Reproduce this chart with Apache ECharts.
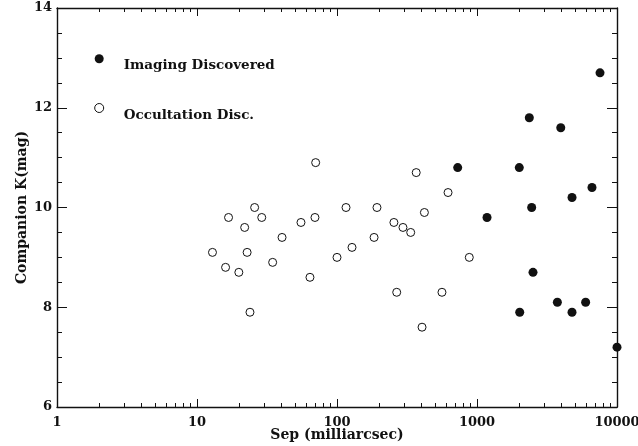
<!DOCTYPE html>
<html><head><meta charset="utf-8">
<script src="https://cdn.jsdelivr.net/npm/echarts@6/dist/echarts.min.js"></script>
<style>html,body{margin:0;padding:0;background:#fff}#c{width:638px;height:446px}</style>
</head><body><div id="c"></div>
<script>
// Occultation discovered companions: separation (mas), K mag
const occSep = [12.9,16.0,16.8,19.9,21.9,22.8,23.9,25.8,29.0,34.7,40.5,55.3,64.1,69.6,70.4,100,116,128,184,193,255,267,296,336,368,405,421,562,621,881];
const occK   = [9.1, 8.8, 9.8, 8.7, 9.6, 9.1, 7.9, 10.0,9.8, 8.9, 9.4, 9.7, 8.6, 9.8, 10.9,9.0,10.0,9.2,9.4,10.0,9.7,8.3,9.6,9.5,10.7,7.6,9.9,8.3,10.3,9.0];
// Imaging discovered companions
const imgSep = [728,1179,2005,2019,2364,2458,2512,3750,3966,4772,4772,5970,6628,7563,10000];
const imgK   = [10.8,9.8,10.8,7.9,11.8,10.0,8.7,8.1,11.6,10.2,7.9,8.1,10.4,12.7,7.2];
const xMajor = [1,10,100,1000,10000];
const xMinor = [2,3,4,5,6,7,8,9,20,30,40,50,60,70,80,90,200,300,400,500,600,700,800,900,2000,3000,4000,5000,6000,7000,8000,9000];
const seriesNames = ['Imaging Discovered','Occultation Disc.'];
const xTitle = 'Sep (milliarcsec)';
const yTitle = 'Companion K(mag)';

const FONT = 'DejaVu Serif';
const ink = '#111';
const chart = echarts.init(document.getElementById('c'));
const tickFont = {color:ink, fontFamily:FONT, fontWeight:'bold', fontSize:13};
const titleFont = {color:ink, fontFamily:FONT, fontWeight:'bold', fontSize:14};
function xAx(pos, ticks, len, labels){
  return {type:'log', logBase:10, min:1, max:10000, position:pos,
    axisLine:{show:labels!==null, lineStyle:{color:ink,width:1.4}},
    axisTick:{show:true, inside:true, length:len, customValues:ticks, lineStyle:{color:ink,width:1}},
    axisLabel:Object.assign({show:!!labels, customValues: labels||undefined, formatter:v=>String(v), margin:9}, tickFont),
    splitLine:{show:false}, minorTick:{show:false},
    name: pos==='bottom' && labels ? xTitle : '', nameLocation:'middle', nameGap:21, nameMoveOverlap:false,
    nameTextStyle:titleFont};
}
function yAx(pos, labels){
  return {type:'value', min:6, max:14, interval:2, position:pos,
    axisLine:{show:true, lineStyle:{color:ink,width:1.4}},
    axisTick:{show:true, inside:true, length:10, lineStyle:{color:ink,width:1}},
    minorTick:{show:true, splitNumber:4, length:5, lineStyle:{color:ink,width:1}},
    axisLabel:Object.assign({show:labels, margin:5}, tickFont),
    splitLine:{show:false},
    name: labels ? yTitle : '', nameLocation:'middle', nameGap:28, nameMoveOverlap:false,
    nameTextStyle:titleFont};
}
const txt = {color:ink, fontFamily:FONT, fontWeight:'bold', fontSize:13.5, lineHeight:14};
chart.setOption({
  animation:false,
  backgroundColor:'#fff',
  grid:{left:57, right:21, top:8, bottom:39, containLabel:false, outerBoundsMode:'none'},
  legend:{
    orient:'vertical', left:94.2, top:44.7, padding:0, itemWidth:9, itemHeight:9, itemGap:21.3,
    formatter: name => '{gap| }\n{t|' + name + '}',
    textStyle:Object.assign({}, txt, {padding:[0,0,0,15], rich:{gap:Object.assign({}, txt, {height:14}), t:txt}}),
    data:[
      {name:seriesNames[0], icon:'circle', itemStyle:{color:ink, borderWidth:0}},
      {name:seriesNames[1], icon:'circle', itemStyle:{color:'#fff', borderColor:ink, borderWidth:1}}
    ]
  },
  xAxis:[
    xAx('bottom', xMajor, 8, xMajor),
    xAx('bottom', xMinor, 4, null),
    xAx('top', xMajor, 8, false),
    xAx('top', xMinor, 4, null)
  ],
  yAxis:[ yAx('left', true), yAx('right', false) ],
  series:[
    {name:seriesNames[0], type:'scatter', xAxisIndex:0, yAxisIndex:0, symbol:'circle', symbolSize:9,
     itemStyle:{color:ink, opacity:1}, data: imgSep.map((s,i)=>[s,imgK[i]]), clip:true},
    {name:seriesNames[1], type:'scatter', xAxisIndex:0, yAxisIndex:0, symbol:'circle', symbolSize:8,
     itemStyle:{color:'#fff', borderColor:ink, borderWidth:1, opacity:1}, data: occSep.map((s,i)=>[s,occK[i]]), clip:true}
  ]
});
</script></body></html>
